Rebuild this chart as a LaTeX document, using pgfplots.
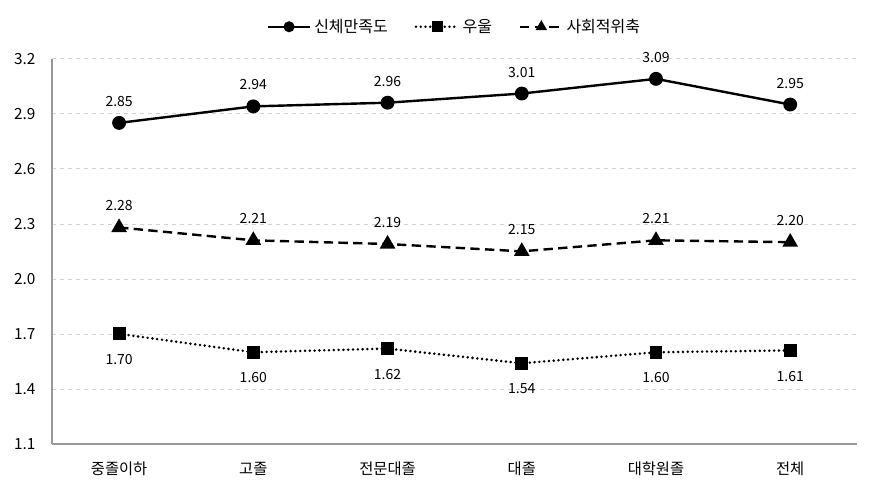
\documentclass[border=0pt]{standalone}
\usepackage{fontspec}
\setmainfont{Noto Sans CJK KR}
\usepackage{pgfplots}
\pgfplotsset{compat=1.18}
\begin{document}
\begin{tikzpicture}[x=1pt,y=1pt]
\begin{axis}[
    scale only axis,
    width=604pt, height=289pt,
    xmin=-0.5, xmax=5.5,
    ymin=1.1, ymax=3.2,
    xtick={0,...,5},
    xticklabels={중졸이하,고졸,전문대졸,대졸,대학원졸,전체},
    ytick={1.1,1.4,1.7,2.0,2.3,2.6,2.9,3.2},
    yticklabel style={/pgf/number format/fixed,/pgf/number format/precision=1,/pgf/number format/fixed zerofill},
    /pgf/number format/assume math mode=true,
    ticklabel style={font=\fontsize{11.5}{13}\selectfont},
    major tick length=0pt,
    axis x line*=bottom, axis y line*=left,
    axis line style={gray!80, line width=0.8pt, -},
    ymajorgrids, major grid style={gray!35, dashed},
    yticklabel style={xshift=-9pt},
    xticklabel style={yshift=-10pt},
    legend columns=3,
    legend style={draw=none, at={(0.5,1)}, anchor=south, yshift=14pt,
        font=\fontsize{12}{14}\selectfont, /tikz/every even column/.append style={column sep=18pt}},
    legend image code/.code={\draw[mark repeat=2,mark phase=2,#1,mark size=3.2pt] plot coordinates {(0pt,0pt) (16pt,0pt) (32pt,0pt)};},
    nodes near coords={\pgfmathprintnumber[fixed,precision=2,fixed zerofill]{\pgfplotspointmeta}},
    nodes near coords style={font=\fontsize{10.5}{12}\selectfont, text=black},
    point meta=y,
    clip=false,
]
\addplot[black, line width=1.8pt, mark=*, mark size=4.3pt,
    nodes near coords style={anchor=south, yshift=8pt}]
    coordinates {(0,2.85) (1,2.94) (2,2.96) (3,3.01) (4,3.09) (5,2.95)};
\addlegendentry{신체만족도}
\addplot[black, line width=2.1pt, dash pattern=on 0pt off 3.6pt, line cap=round, mark=square*, mark size=3.8pt, mark options={solid},
    nodes near coords style={anchor=north, yshift=-11pt}]
    coordinates {(0,1.70) (1,1.60) (2,1.62) (3,1.54) (4,1.60) (5,1.61)};
\addlegendentry{우울}
\addplot[black, line width=1.8pt, dash pattern=on 7pt off 4pt, mark=triangle*, mark size=5pt, mark options={solid},
    nodes near coords style={anchor=south, yshift=8pt}]
    coordinates {(0,2.28) (1,2.21) (2,2.19) (3,2.15) (4,2.21) (5,2.20)};
\addlegendentry{사회적위축}
\end{axis}
\useasboundingbox (-39pt,-37.5pt) rectangle (614.25pt,333pt);
\end{tikzpicture}
\end{document}
